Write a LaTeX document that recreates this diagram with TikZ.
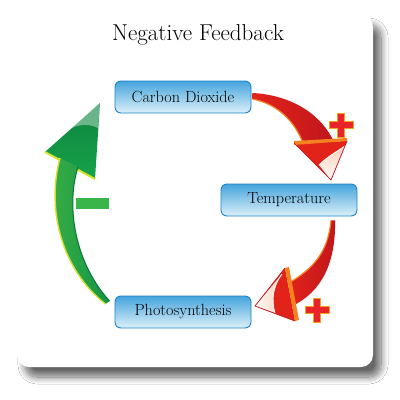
\documentclass[tikz,border=0pt]{standalone}
\usetikzlibrary{calc,shadows.blur}
\definecolor{boxtop}{HTML}{45A4DC}
\definecolor{boxbot}{HTML}{DCF0FA}
\definecolor{boxline}{HTML}{1A84C6}
\definecolor{redarrow}{HTML}{E2231A}
\definecolor{darkred}{HTML}{C0161C}
\definecolor{orangearrow}{HTML}{F58220}
\definecolor{peach}{HTML}{FAD2BC}
\definecolor{darkgreen}{HTML}{08773A}
\definecolor{midgreen}{HTML}{17A24A}
\definecolor{limegreen}{HTML}{D2E22E}
\definecolor{minusgreen}{HTML}{3AB54A}
\definecolor{plusred}{HTML}{E8242A}
\definecolor{plusedge}{HTML}{F7A21B}
\tikzset{
  stagebox/.style={rectangle, rounded corners=6pt, draw=boxline, line width=0.9pt,
    top color=boxtop, bottom color=boxbot, minimum width=136pt, minimum height=32pt,
    font=\fontsize{16.2}{19}\selectfont},
  minusbar/.style={rectangle, fill=minusgreen, minimum width=33pt, minimum height=11pt, inner sep=0pt},
  plussign/.pic={
    \fill[plusred, draw=plusedge, line width=1pt]
      (-12,-3.5) -- (-3.5,-3.5) -- (-3.5,-12) -- (3.5,-12) -- (3.5,-3.5) -- (12,-3.5)
      -- (12,3.5) -- (3.5,3.5) -- (3.5,12) -- (-3.5,12) -- (-3.5,3.5) -- (-12,3.5) -- cycle;
  }
}
\begin{document}
\begin{tikzpicture}[x=1pt,y=-1pt]
  \useasboundingbox[fill=white] (0,0) rectangle (400,400);
  % card
  \path[fill=white, rounded corners=12pt,
    blur shadow={shadow xshift=8pt, shadow yshift=-10pt, shadow blur radius=7pt,
      shadow blur steps=12, shadow opacity=60}]
    (17,15) rectangle (373,367);
  \node[font=\fontsize{23}{27}\selectfont] (title) at (198,35) {Negative Feedback};
  % stages
  \node[stagebox] (co2) at (183,97) {Carbon Dioxide};
  \node[stagebox] (temp) at (289,200) {Temperature};
  \node[stagebox] (photo) at (183,312) {Photosynthesis};
  % carbon dioxide -> temperature
  \path[left color=redarrow, right color=darkred]
    ($(co2.east)+(1,-4)$) .. controls (292,95) and (322,115) .. (334,142)
    -- (303,143) .. controls (295,122) and (278,104) .. ($(co2.east)+(1,2)$) -- cycle;
  \draw[orangearrow, line width=1.2pt]
    (303,143) .. controls (295,122) and (278,104) .. ($(co2.east)+(1,2)$);
  \fill[redarrow] (294,143) -- (347,141) -- (331,180) -- cycle;
  \fill[orangearrow] (294,141) -- (347,138) -- (347,141) -- (294,145) -- cycle;
  \path[top color=peach, bottom color=white!90!peach]
    (319,165) .. controls (328,156) and (338,151) .. (345,146) -- (331,180) -- cycle;
  \draw[white, line width=0.8pt] (319,165) .. controls (328,156) and (338,151) .. (345,146);
  \draw[darkred, line width=0.7pt, line join=round] (294,143) -- (331,180) -- (347,141);
  % temperature -> photosynthesis
  \path[left color=redarrow, right color=darkred]
    ($(temp.south)+(42,4)$) -- ($(temp.south)+(46,4)$) .. controls (336,262) and (322,292) .. (292,306)
    -- (289,283) .. controls (314,268) and (328,252) .. ($(temp.south)+(42,4)$) -- cycle;
  \draw[orangearrow, line width=1.2pt]
    (289,283) .. controls (314,268) and (328,252) .. ($(temp.south)+(42,4)$);
  \fill[redarrow] (285,268) -- (295,321) -- (255,306) -- cycle;
  \fill[orangearrow] (285,268) -- (289,267) -- (299,320) -- (295,321) -- cycle;
  \path[left color=white!90!peach, right color=peach]
    (282,274) .. controls (273,286) and (271,300) .. (275,313) -- (255,306) -- cycle;
  \draw[white, line width=0.8pt] (282,274) .. controls (273,286) and (271,300) .. (275,313);
  \draw[darkred, line width=0.7pt, line join=round] (285,268) -- (255,306) -- (295,321);
  % photosynthesis -> carbon dioxide
  \path[top color=darkgreen!70!midgreen, bottom color=midgreen]
    (45,152) -- (100,103) -- (95,179) -- cycle;
  \fill[white, opacity=0.38]
    (63,134) -- (100,103) -- (98,128) .. controls (86,122) and (73,125) .. (63,134) -- cycle;
  \draw[limegreen, line width=2pt] (45,152) -- (95,179);
  \path[left color=midgreen!80!limegreen, right color=midgreen!70!darkgreen]
    ($(photo.west)+(-9,-8)$) .. controls (62,270) and (46,210) .. (60,158)
    -- (78,167) .. controls (66,205) and (74,262) .. ($(photo.west)+(-5,-11)$) -- cycle;
  \draw[limegreen, line width=1.4pt]
    ($(photo.west)+(-9,-8)$) .. controls (62,270) and (46,210) .. (60,158);
  \draw[darkgreen, line width=1pt]
    (78,167) .. controls (66,205) and (74,262) .. ($(photo.west)+(-5,-11)$);
  % signs
  \node[minusbar] (minus) at (92.5,203.5) {};
  \pic at (341,125) {plussign};
  \pic at (317,310) {plussign};
\end{tikzpicture}
\end{document}
